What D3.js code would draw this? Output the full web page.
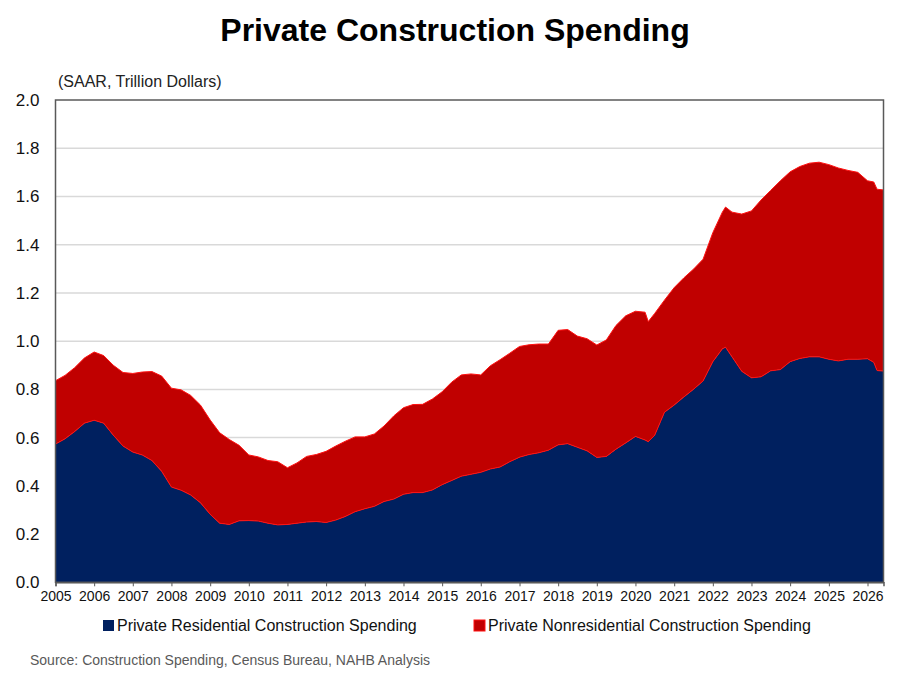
<!DOCTYPE html>
<html>
<head>
<meta charset="utf-8">
<script src="https://cdn.jsdelivr.net/npm/d3@7"></script>
<style>
  body { margin: 0; background: #fff; }
  svg { font-family: "Liberation Sans", Arial, sans-serif; }
</style>
</head>
<body>
<svg id="chart" width="909" height="696"></svg>
<script>
// months (YYYY-MM), read off the picture roughly quarterly
var months = [
  "2005-01","2005-04","2005-07","2005-10","2006-01","2006-04","2006-07","2006-10",
  "2007-01","2007-04","2007-07","2007-10","2008-01","2008-04","2008-07","2008-10",
  "2009-01","2009-04","2009-07","2009-10","2010-01","2010-04","2010-07","2010-10",
  "2011-01","2011-04","2011-07","2011-10","2012-01","2012-04","2012-07","2012-10",
  "2013-01","2013-04","2013-07","2013-10","2014-01","2014-04","2014-07","2014-10",
  "2015-01","2015-04","2015-07","2015-10","2016-01","2016-04","2016-07","2016-10",
  "2017-01","2017-04","2017-07","2017-10","2018-01","2018-04","2018-07","2018-10",
  "2019-01","2019-04","2019-07","2019-10","2020-01","2020-04","2020-05","2020-07","2020-10",
  "2021-01","2021-04","2021-07","2021-10","2022-01","2022-04","2022-05","2022-07","2022-10",
  "2023-01","2023-04","2023-07","2023-10","2024-01","2024-04","2024-07","2024-10",
  "2025-01","2025-04","2025-07","2025-10","2026-01","2026-03","2026-04","2026-06"
];

// trillion dollars, SAAR
var residential = [
  0.573,0.595,0.625,0.660,0.672,0.660,0.610,0.565,
  0.540,0.528,0.505,0.460,0.395,0.382,0.362,0.330,
  0.282,0.245,0.240,0.255,0.256,0.254,0.245,0.238,
  0.240,0.245,0.250,0.252,0.248,0.258,0.273,0.293,
  0.305,0.315,0.335,0.345,0.365,0.372,0.372,0.383,
  0.405,0.422,0.440,0.448,0.456,0.470,0.478,0.500,
  0.519,0.530,0.537,0.548,0.570,0.575,0.560,0.545,
  0.518,0.522,0.552,0.578,0.605,0.590,0.583,0.610,0.705,
  0.735,0.768,0.800,0.835,0.915,0.968,0.975,0.935,0.875,
  0.848,0.852,0.877,0.882,0.915,0.928,0.935,0.935,
  0.925,0.918,0.925,0.925,0.927,0.912,0.878,0.876
];

var nonresidential = [
  0.263,0.263,0.265,0.270,0.283,0.280,0.290,0.305,
  0.326,0.344,0.369,0.395,0.410,0.416,0.413,0.405,
  0.391,0.375,0.352,0.313,0.272,0.266,0.260,0.262,
  0.235,0.250,0.272,0.278,0.295,0.307,0.312,0.310,
  0.298,0.300,0.313,0.345,0.359,0.365,0.366,0.377,
  0.385,0.408,0.420,0.416,0.404,0.428,0.445,0.450,
  0.459,0.455,0.451,0.440,0.475,0.473,0.461,0.465,
  0.466,0.483,0.513,0.527,0.519,0.530,0.498,0.505,0.465,
  0.487,0.494,0.498,0.505,0.535,0.567,0.581,0.600,0.652,
  0.692,0.733,0.748,0.783,0.787,0.796,0.803,0.807,
  0.807,0.800,0.783,0.775,0.738,0.748,0.752,0.751
];

var seriesNames = ["Private Residential Construction Spending", "Private Nonresidential Construction Spending"];
var seriesColors = ["#00205F", "#C00000"];
var yTicks = [0, 0.2, 0.4, 0.6, 0.8, 1.0, 1.2, 1.4, 1.6, 1.8, 2.0];
var yearTicks = d3.range(2005, 2027);

var parseMonth = d3.timeParse("%Y-%m");
var rows = months.map(function(m, i) {
  return { date: parseMonth(m), res: residential[i], nonres: nonresidential[i] };
});

var svg = d3.select("#chart");
var plotL = 55.5, plotR = 883.5, plotT = 100, plotB = 582.3;

var x = d3.scaleTime()
  .domain([rows[0].date, rows[rows.length - 1].date])
  .range([plotL, plotR]);
var y = d3.scaleLinear().domain([0, 2]).range([plotB, plotT]);

svg.append("text")
  .attr("x", 455).attr("y", 41)
  .attr("text-anchor", "middle")
  .style("font-size", "32px").style("font-weight", "bold")
  .text("Private Construction Spending");

svg.append("text")
  .attr("x", 58).attr("y", 87)
  .style("font-size", "16px").attr("fill", "#222")
  .text("(SAAR, Trillion Dollars)");

// gridlines
svg.append("g").selectAll("line")
  .data(yTicks.filter(function(d) { return d > 0 && d < 2; }))
  .enter().append("line")
  .attr("x1", plotL).attr("x2", plotR)
  .attr("y1", function(d) { return y(d); })
  .attr("y2", function(d) { return y(d); })
  .attr("stroke", "#d9d9d9").attr("stroke-width", 1.5);

var stack = d3.stack().keys(["res", "nonres"]);
var layers = stack(rows);

var area = d3.area()
  .x(function(d) { return x(d.data.date); })
  .y0(function(d) { return y(d[0]); })
  .y1(function(d) { return y(d[1]); });

var topLine = d3.line()
  .x(function(d) { return x(d.data.date); })
  .y(function(d) { return y(d[1]); });

svg.append("g").selectAll("path")
  .data(layers)
  .enter().append("path")
  .attr("d", area)
  .attr("fill", function(d, i) { return seriesColors[i]; });

svg.append("g").selectAll("path")
  .data(layers)
  .enter().append("path")
  .attr("d", topLine)
  .attr("fill", "none")
  .attr("stroke", "#ff1010")
  .attr("stroke-width", 1);

// frame
svg.append("rect")
  .attr("x", plotL).attr("y", plotT)
  .attr("width", plotR - plotL).attr("height", plotB - plotT)
  .attr("fill", "none").attr("stroke", "#595959").attr("stroke-width", 1.5);

var yAxis = svg.append("g")
  .attr("transform", "translate(" + plotL + ",0)")
  .call(d3.axisLeft(y).tickValues(yTicks).tickFormat(d3.format(".1f")).tickSize(0).tickPadding(16));
yAxis.select(".domain").remove();
yAxis.selectAll("text").style("font-size", "17px").attr("fill", "#111")
  .style("font-family", "'Liberation Sans', Arial, sans-serif");

var xAxis = svg.append("g")
  .attr("transform", "translate(0," + plotB + ")")
  .call(d3.axisBottom(x)
    .tickValues(yearTicks.map(function(yr) { return new Date(yr, 0, 1); }))
    .tickFormat(d3.timeFormat("%Y"))
    .tickSize(4).tickPadding(5));
xAxis.select(".domain").attr("stroke", "#595959").attr("stroke-width", 1.5);
xAxis.selectAll(".tick line").attr("stroke", "#595959");
xAxis.selectAll("text").style("font-size", "14px").attr("fill", "#111")
  .style("font-family", "'Liberation Sans', Arial, sans-serif");

// legend
var legendX = [103, 474];
var legend = svg.append("g").selectAll("g")
  .data(seriesNames)
  .enter().append("g")
  .attr("transform", function(d, i) { return "translate(" + legendX[i] + ",620)"; });
legend.append("rect")
  .attr("width", 11).attr("height", 11)
  .attr("fill", function(d, i) { return seriesColors[i]; })
  .attr("stroke", function(d, i) { return i ? "#ff1010" : "none"; });
legend.append("text")
  .attr("x", 14).attr("y", 11)
  .style("font-size", "16px").attr("fill", "#111")
  .text(function(d) { return d; });

svg.append("text")
  .attr("x", 30).attr("y", 665)
  .style("font-size", "14px").attr("fill", "#595959")
  .text("Source: Construction Spending, Census Bureau, NAHB Analysis");
</script>
</body>
</html>
